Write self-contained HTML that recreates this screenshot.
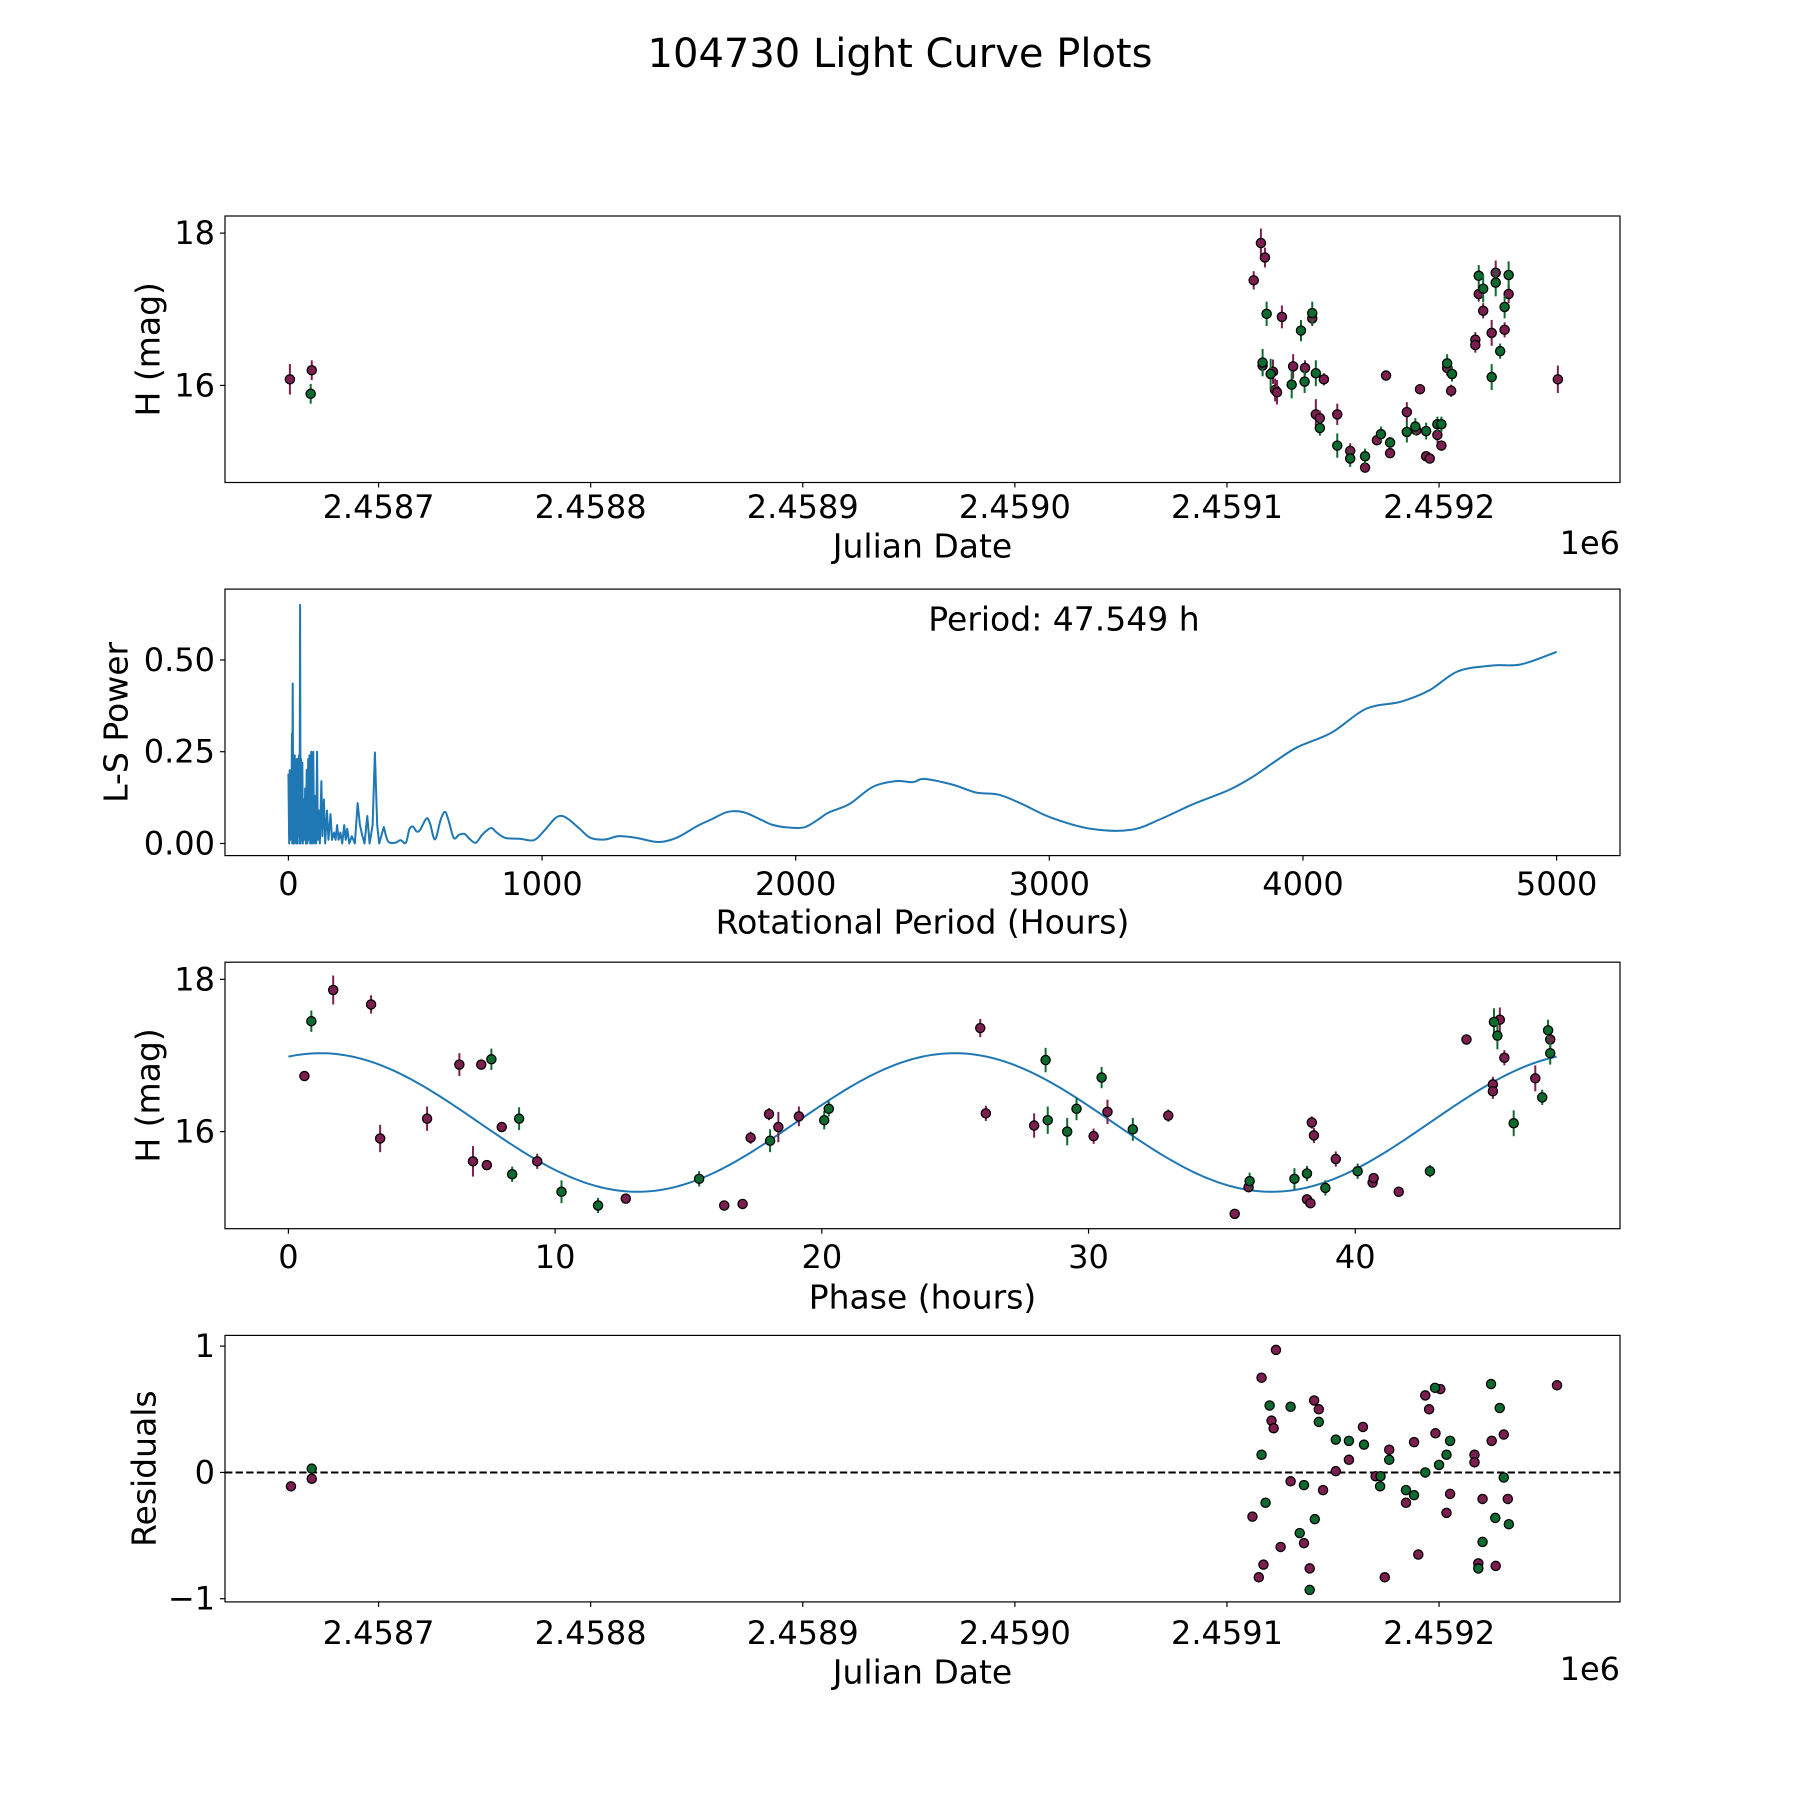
<!DOCTYPE html>
<html><head><meta charset="utf-8">
<style>
html,body{margin:0;padding:0;background:#fff;}
svg{display:block;font-family:"DejaVu Sans","Liberation Sans",sans-serif;}
</style></head>
<body>
<svg id="fig" width="1800" height="1800" viewBox="0 0 1800 1800" xmlns="http://www.w3.org/2000/svg">
<rect x="0" y="0" width="1800" height="1800" fill="#fff"/>
<text x="900" y="54" font-size="40" text-anchor="middle" dominant-baseline="central">104730 Light Curve Plots</text>
</svg>
<script>
// ---------- Panel 1: light curve (Julian date vs H mag) ----------
const lcJdMagenta = [2458658.2,2458668.5,2459112.6,2459116.0,2459117.9,2459116.8,2459121.7,2459122.7,2459123.6,2459125.9,2459131.2,2459136.8,2459140.2,2459145.7,2459141.9,2459143.8,2459152.0,2459158.1,2459165.1,2459170.7,2459175.0,2459176.9,2459184.8,2459189.3,2459191.0,2459193.9,2459195.6,2459199.2,2459201.1,2459203.8,2459205.7,2459217.1,2459217.1,2459218.7,2459220.8,2459224.8,2459226.7,2459230.9,2459232.8,2459256.0];
const lcMagMagenta = [16.08,16.20,17.38,17.87,17.68,16.26,16.18,15.94,15.91,16.90,16.25,16.23,16.88,16.08,15.62,15.57,15.62,15.14,14.92,15.28,16.13,15.11,15.65,15.41,15.95,15.07,15.04,15.35,15.21,16.23,15.93,16.60,16.53,17.20,16.98,16.69,17.48,16.73,17.20,16.08];
const lcErrMagenta = [0.2,0.13,0.12,0.19,0.13,0.11,0.16,0.15,0.16,0.15,0.16,0.1,0.1,0.08,0.2,0.1,0.14,0.1,0.05,0.05,0.05,0.06,0.13,0.06,0.05,0.05,0.05,0.1,0.06,0.1,0.08,0.1,0.1,0.1,0.1,0.17,0.16,0.1,0.12,0.18];
const lcJdGreen = [2458668.0,2459118.7,2459116.8,2459120.6,2459130.5,2459134.9,2459136.6,2459140.2,2459141.9,2459143.8,2459152.0,2459158.1,2459165.1,2459172.6,2459176.9,2459184.8,2459188.8,2459193.9,2459199.2,2459201.1,2459203.8,2459206.1,2459218.7,2459220.8,2459224.8,2459226.7,2459228.8,2459230.9,2459232.8];
const lcMagGreen = [15.89,16.94,16.30,16.15,16.01,16.72,16.05,16.95,16.16,15.44,15.21,15.04,15.07,15.36,15.25,15.39,15.46,15.40,15.49,15.49,16.29,16.15,17.44,17.27,16.11,17.35,16.45,17.03,17.45];
const lcErrGreen = [0.13,0.16,0.18,0.2,0.18,0.14,0.15,0.15,0.17,0.1,0.16,0.11,0.1,0.1,0.07,0.14,0.11,0.11,0.1,0.1,0.12,0.1,0.14,0.18,0.17,0.18,0.1,0.15,0.18];
const dateTicks = [2458700,2458800,2458900,2459000,2459100,2459200];
const dateTickLabels = ["2.4587","2.4588","2.4589","2.4590","2.4591","2.4592"];
const magTicks = [16,18];
const magTickLabels = ["16","18"];

// ---------- Panel 2: Lomb-Scargle periodogram ----------
const pgSpikeHours = [0,3,5,7,9,11,14,15,17,19,21,23,25,27,29,31,33,35,37,39,42,44,46,48,50,52,55,57,60,62,66,69,72,75,78,80,83,86,90,93,98,101,106,109,113,116,121,124,130,134,140,145,152,158,166,172,180,186,192,198,205,212,220,226,232,240,250,262,273,282,292,300,311,320,332,341,350,358];
const pgSpikePower = [0.19,0.0,0.2,0.01,0.19,0.02,0.3,0.0,0.436,0.0,0.21,0.0,0.24,0.01,0.22,0.0,0.23,0.0,0.23,0.02,0.24,0.0,0.65,0.0,0.23,0.01,0.22,0.0,0.12,0.01,0.15,0.0,0.2,0.0,0.23,0.01,0.24,0.0,0.25,0.0,0.25,0.0,0.13,0.0,0.25,0.01,0.09,0.0,0.17,0.02,0.12,0.0,0.09,0.01,0.08,0.01,0.03,0.01,0.05,0.01,0.03,0.0,0.05,0.01,0.04,0.0,0.02,0.0,0.11,0.05,0.02,0.0,0.075,0.0,0.05,0.248,0.05,0.0];
const pgHours = [376,393,421,442,463,477,491,505,519,544,558,578,600,617,631,652,673,694,715,739,764,785,802,821,856,912,968,1010,1052,1080,1108,1150,1192,1248,1304,1374,1459,1529,1613,1669,1732,1795,1865,1907,1964,2034,2090,2129,2213,2303,2394,2462,2507,2620,2710,2801,2891,3005,3163,3321,3434,3570,3706,3796,3887,3977,4113,4249,4385,4498,4611,4747,4860,5000];
const pgPower = [0.045,0.006,0.002,0.009,0.002,0.039,0.046,0.033,0.037,0.068,0.055,0.011,0.064,0.086,0.064,0.015,0.024,0.026,0.012,0.002,0.024,0.037,0.042,0.030,0.015,0.013,0.009,0.036,0.069,0.075,0.064,0.039,0.015,0.011,0.020,0.015,0.004,0.015,0.048,0.066,0.086,0.085,0.064,0.051,0.044,0.044,0.066,0.084,0.108,0.154,0.17,0.167,0.176,0.16,0.139,0.133,0.108,0.071,0.04,0.037,0.065,0.108,0.145,0.179,0.222,0.262,0.302,0.367,0.386,0.417,0.469,0.485,0.488,0.522];
const periodTicks = [0,1000,2000,3000,4000,5000];
const periodTickLabels = ["0","1000","2000","3000","4000","5000"];
const powerTicks = [0,0.25,0.5];
const powerTickLabels = ["0.00","0.25","0.50"];
const bestPeriodLabel = "Period: 47.549 h";

// ---------- Panel 3: phase-folded ----------
const phMagenta = [0.60,1.68,3.10,3.44,5.20,6.41,6.92,7.44,7.23,8.0,9.33,12.65,16.34,17.03,17.33,18.02,18.37,19.14,25.94,26.15,27.96,30.19,30.71,32.99,35.48,36.0,38.19,38.32,38.37,38.45,39.27,40.65,40.69,41.63,44.17,45.16,45.16,45.42,45.59,46.75,47.31];
const phMagMagenta = [16.73,17.86,17.67,15.91,16.17,16.88,15.61,15.56,16.88,16.06,15.61,15.12,15.03,15.05,15.92,16.23,16.06,16.20,17.36,16.24,16.08,15.94,16.26,16.21,14.92,15.27,15.11,15.06,16.12,15.95,15.64,15.33,15.39,15.21,17.21,16.62,16.53,17.47,16.97,16.70,17.21];
const phErrMagenta = [0.06,0.19,0.12,0.18,0.16,0.15,0.2,0.06,0.05,0.05,0.1,0.06,0.05,0.05,0.08,0.08,0.2,0.13,0.12,0.1,0.16,0.1,0.16,0.08,0.05,0.05,0.06,0.05,0.08,0.1,0.1,0.05,0.05,0.05,0.06,0.1,0.1,0.16,0.1,0.17,0.12];
const phGreen = [0.86,7.61,8.39,8.65,10.24,11.61,15.40,18.06,20.09,20.26,28.39,28.47,29.2,29.55,30.49,31.66,36.04,37.72,38.19,38.88,40.09,42.80,45.20,45.33,45.94,47.01,47.23,47.31];
const phMagGreen = [17.45,16.95,15.44,16.17,15.21,15.03,15.38,15.88,16.15,16.30,16.94,16.15,16.0,16.30,16.71,16.03,15.35,15.38,15.45,15.26,15.48,15.48,17.44,17.26,16.11,16.45,17.33,17.03];
const phErrGreen = [0.14,0.14,0.1,0.15,0.15,0.1,0.1,0.15,0.12,0.1,0.16,0.18,0.18,0.15,0.14,0.15,0.11,0.14,0.1,0.1,0.1,0.08,0.18,0.18,0.17,0.1,0.14,0.15];
const fitMean = [16.12];
const fitAmplitude = [0.91];
const fitPeakPhase = [1.2];
const fitPeriodHours = [47.549];
const phaseTicks = [0,10,20,30,40];
const phaseTickLabels = ["0","10","20","30","40"];

// ---------- Panel 4: residuals ----------
const resJdMagenta = [2458658.7,2458668.5,2459123.1,2459116.3,2459121.0,2459122.0,2459141.1,2459143.3,2459130.0,2459145.3,2459112.0,2459136.3,2459125.3,2459117.2,2459115.0,2459139.0,2459164.1,2459157.5,2459151.3,2459170.1,2459176.5,2459174.4,2459184.4,2459188.2,2459190.2,2459193.5,2459195.3,2459200.6,2459198.3,2459205.2,2459203.5,2459216.7,2459216.7,2459220.5,2459218.5,2459226.7,2459224.8,2459230.5,2459232.4,2459255.6];
const resMagenta = [-0.11,-0.05,0.97,0.75,0.41,0.35,0.57,0.50,-0.07,-0.14,-0.35,-0.56,-0.59,-0.73,-0.83,-0.76,0.36,0.10,0.01,-0.03,0.18,-0.83,-0.24,0.24,-0.65,0.61,0.50,0.66,0.31,-0.17,-0.32,0.14,0.08,-0.21,-0.72,-0.74,0.25,0.30,-0.21,0.69];
const resJdGreen = [2458668.5,2459120.1,2459130.0,2459143.3,2459116.3,2459136.3,2459118.2,2459141.4,2459134.3,2459139.0,2459151.3,2459157.5,2459164.6,2459172.4,2459172.2,2459176.5,2459184.4,2459188.2,2459193.5,2459198.1,2459200.0,2459203.5,2459205.2,2459220.5,2459218.5,2459226.5,2459224.5,2459228.6,2459230.5,2459232.9];
const resGreen = [0.03,0.53,0.52,0.40,0.14,-0.10,-0.24,-0.37,-0.48,-0.93,0.26,0.25,0.22,-0.03,-0.11,0.10,-0.14,-0.18,0.0,0.67,0.06,0.14,0.25,-0.55,-0.76,-0.36,0.70,0.51,-0.04,-0.41];
const residualTicks = [-1,0,1];
const residualTickLabels = ["\u22121","0","1"];
</script>
<script>
(function(){
const NS = "http://www.w3.org/2000/svg";
const svg = document.getElementById("fig");
const MAG = "#7d1e50", GRN = "#0e6b30", LINE = "#1f77b4";
const L = 225, R = 1620, H = 266.5;
const tops = [216, 589.1, 962.2, 1335.4];

function mk(tag, attrs, parent){
  const e = document.createElementNS(NS, tag);
  for (const k in attrs) e.setAttribute(k, attrs[k]);
  (parent||svg).appendChild(e);
  return e;
}
function scale(d0,d1,r0,r1){ return v => r0 + (v-d0)/(d1-d0)*(r1-r0); }

function frame(top, name, xt, xtl, xs, yt, ytl, ys, xlabel, ylabel, ylabelX, tickY, labelY, offsetText){
  const g = mk("g", {});
  
  
  const bx = mk("rect", {x:L, y:top, width:R-L, height:H, fill:"none", stroke:"#000", "stroke-width":1.2}, g);
  
  
  xt.forEach((v,i)=>{
    const x = xs(v);
    const t = mk("line", {x1:x, x2:x, y1:top+H, y2:top+H+5, stroke:"#000", "stroke-width":1.2}, g);
    
    
    const tl = mk("text", {x:x, y:tickY, "font-size":32, "text-anchor":"middle", "dominant-baseline":"central"}, g);
    tl.textContent = xtl[i];
    
    
  });
  yt.forEach((v,i)=>{
    const y = ys(v);
    const t = mk("line", {x1:L-5, x2:L, y1:y, y2:y, stroke:"#000", "stroke-width":1.2}, g);
    
    
    const tl = mk("text", {x:L-10, y:y, "font-size":32, "text-anchor":"end", "dominant-baseline":"central"}, g);
    tl.textContent = ytl[i];
    
    
  });
  const xl = mk("text", {x:(L+R)/2, y:labelY, "font-size":33, "text-anchor":"middle", "dominant-baseline":"central"}, g);
  xl.textContent = xlabel;
  
  
  const cy = top + H/2;
  const yl = mk("text", {x:ylabelX, y:cy, "font-size":33, "text-anchor":"middle", "dominant-baseline":"central", transform:"rotate(-90 "+ylabelX+" "+cy+")"}, g);
  yl.textContent = ylabel;
  
  
  if (offsetText){
    const ot = mk("text", {x:R, y:labelY-3, "font-size":32, "text-anchor":"end", "dominant-baseline":"central"}, g);
    ot.textContent = offsetText;
    
    
  }
  return g;
}

function errPoints(g, xsArr, ysArr, errs, xs, ys, color, nm){
  const n = Math.min(xsArr.length, ysArr.length);
  for (let i=0;i<n;i++){
    const x = xs(xsArr[i]), y = ys(ysArr[i]);
    if (errs){
      const e = errs[i] || 0.1;
      const b = mk("line", {x1:x, x2:x, y1:ys(ysArr[i]-e), y2:ys(ysArr[i]+e), stroke:color, "stroke-width":2}, g);
      
      
    }
    const c = mk("circle", {cx:x, cy:y, r:4.6, fill:color, stroke:"#000", "stroke-width":1.3}, g);
    
    
  }
}

// Panel 1
const jx = scale(2458627.6, 2459285.3, L, R);
const my1 = scale(14.725, 18.225, tops[0]+H, tops[0]);
const g1 = frame(tops[0], 'light-curve-panel', dateTicks, dateTickLabels, jx, magTicks, magTickLabels, my1, 'Julian Date', 'H (mag)', 148, 507, 546, '1e6');
errPoints(g1, lcJdMagenta, lcMagMagenta, lcErrMagenta, jx, my1, MAG, 'magenta');
errPoints(g1, lcJdGreen, lcMagGreen, lcErrGreen, jx, my1, GRN, 'green');

// Panel 2
const px = scale(-250, 5250, L, R);
const py = scale(-0.033, 0.693, tops[1]+H, tops[1]);
const g2 = frame(tops[1], 'periodogram-panel', periodTicks, periodTickLabels, px, powerTicks, powerTickLabels, py, 'Rotational Period (Hours)', 'L-S Power', 116, 884, 922, null);
let d = "";
pgSpikeHours.forEach((h,i)=>{ d += (i?"L":"M") + px(h).toFixed(2) + "," + py(pgSpikePower[i]).toFixed(2); });
// smooth part: Catmull-Rom through the read samples
const P2 = pgHours.map((h,i)=>[px(h), py(pgPower[i])]);
d += "L" + P2[0][0].toFixed(2) + "," + P2[0][1].toFixed(2);
for (let i=0;i<P2.length-1;i++){
  const p0 = P2[Math.max(0,i-1)], p1 = P2[i], p2 = P2[i+1], p3 = P2[Math.min(P2.length-1,i+2)];
  const c1 = [p1[0]+(p2[0]-p0[0])/6, p1[1]+(p2[1]-p0[1])/6];
  const c2 = [p2[0]-(p3[0]-p1[0])/6, p2[1]-(p3[1]-p1[1])/6];
  d += "C" + c1[0].toFixed(2)+","+c1[1].toFixed(2)+" "+c2[0].toFixed(2)+","+c2[1].toFixed(2)+" "+p2[0].toFixed(2)+","+p2[1].toFixed(2);
}
const pl = mk("path", {d:d, fill:"none", stroke:LINE, "stroke-width":2, "stroke-linejoin":"round"}, g2);


const pt = mk("text", {x:1064, y:619, "font-size":33, "text-anchor":"middle", "dominant-baseline":"central"}, g2);
pt.textContent = bestPeriodLabel;



// Panel 3
const phx = scale(-2.377, 49.926, L, R);
const my3 = scale(14.725, 18.225, tops[2]+H, tops[2]);
const g3 = frame(tops[2], 'phase-panel', phaseTicks, phaseTickLabels, phx, magTicks, magTickLabels, my3, 'Phase (hours)', 'H (mag)', 148, 1257, 1297, null);
let dm = "";
const P = fitPeriodHours[0];
for (let k=0;k<=300;k++){
  const ph = P*k/300;
  const m = fitMean[0] + fitAmplitude[0]*Math.cos(2*Math.PI*(ph-fitPeakPhase[0])/(P/2));
  dm += (k?"L":"M") + phx(ph).toFixed(2) + "," + my3(m).toFixed(2);
}
const ml = mk("path", {d:dm, fill:"none", stroke:LINE, "stroke-width":2}, g3);


errPoints(g3, phMagenta, phMagMagenta, phErrMagenta, phx, my3, MAG, 'magenta');
errPoints(g3, phGreen, phMagGreen, phErrGreen, phx, my3, GRN, 'green');

// Panel 4
const ry = scale(-1.025, 1.085, tops[3]+H, tops[3]);
const g4 = frame(tops[3], 'residuals-panel', dateTicks, dateTickLabels, jx, residualTicks, residualTickLabels, ry, 'Julian Date', 'Residuals', 144, 1633, 1672, '1e6');
const zl = mk("line", {x1:L, x2:R, y1:ry(0), y2:ry(0), stroke:"#000", "stroke-width":2, "stroke-dasharray":"7.4 3.2"}, g4);


errPoints(g4, resJdMagenta, resMagenta, null, jx, ry, MAG, 'magenta-residual');
errPoints(g4, resJdGreen, resGreen, null, jx, ry, GRN, 'green-residual');
})();
</script>
</body></html>
